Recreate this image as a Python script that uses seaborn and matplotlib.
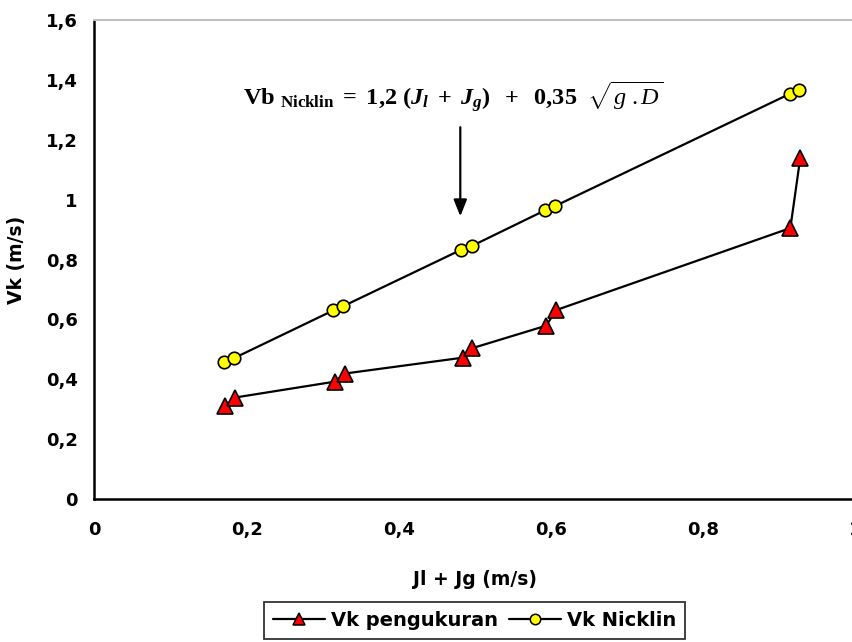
import numpy as np
import pandas as pd
import seaborn as sns
import matplotlib.pyplot as plt
from matplotlib.lines import Line2D
from matplotlib.ticker import FuncFormatter, MultipleLocator

# values
jl_jg_ukur = [0.171, 0.185, 0.316, 0.329, 0.484, 0.497, 0.594, 0.607, 0.915, 0.928]
vk_ukur = [0.309, 0.339, 0.392, 0.419, 0.472, 0.504, 0.579, 0.631, 0.905, 1.139]

jl_jg_nick = [0.170, 0.183, 0.314, 0.327, 0.4825, 0.496, 0.593, 0.606, 0.914, 0.927]
vk_nick = [0.458, 0.470, 0.630, 0.644, 0.833, 0.845, 0.965, 0.979, 1.353, 1.367]

df_ukur = pd.DataFrame({'x': jl_jg_ukur, 'y': vk_ukur})
df_nick = pd.DataFrame({'x': jl_jg_nick, 'y': vk_nick})

sns.set_style('white')
plt.rcParams['font.family'] = ['DejaVu Sans']
plt.rcParams['text.color'] = 'black'
plt.rcParams['axes.labelcolor'] = 'black'
plt.rcParams['xtick.color'] = 'black'
plt.rcParams['ytick.color'] = 'black'
plt.rcParams['mathtext.fontset'] = 'custom'
plt.rcParams['mathtext.rm'] = 'Liberation Serif'
plt.rcParams['mathtext.it'] = 'Liberation Serif:italic'
plt.rcParams['mathtext.bf'] = 'Liberation Serif:bold'
plt.rcParams['mathtext.bfit'] = 'Liberation Serif:bold:italic'

fig = plt.figure(figsize=(8.53, 6.42), dpi=100)
ax = fig.add_axes([94.5 / 853, 1 - 499 / 642, (855 - 94.5) / 853, (499 - 20) / 642])

sns.lineplot(data=df_ukur, x='x', y='y', ax=ax, sort=False, color='black', lw=1.6,
             marker='^', markersize=11, markerfacecolor='#ff0000', markeredgecolor='black',
             markeredgewidth=1.2, legend=False)
sns.lineplot(data=df_nick, x='x', y='y', ax=ax, sort=False, color='black', lw=1.6,
             marker='o', markersize=9, markerfacecolor='#ffff00', markeredgecolor='black',
             markeredgewidth=1.2, legend=False)

ax.set_xlim(0, 1)
ax.set_ylim(0, 1.6)
ax.xaxis.set_major_locator(MultipleLocator(0.2))
ax.yaxis.set_major_locator(MultipleLocator(0.2))
fmt = FuncFormatter(lambda v, p: ('%g' % round(v, 2)).replace('.', ','))
ax.xaxis.set_major_formatter(fmt)
ax.yaxis.set_major_formatter(fmt)
ax.tick_params(axis='both', which='major', direction='out', length=6, width=1.5,
               color='black', labelcolor='black', labelsize=13)
ax.tick_params(axis='x', pad=10)
ax.tick_params(axis='y', pad=6)
for lab in ax.get_xticklabels() + ax.get_yticklabels():
    lab.set_fontweight('bold')

for s in ['left', 'bottom']:
    ax.spines[s].set_color('black')
    ax.spines[s].set_linewidth(1.8)
ax.spines['top'].set_color('#c0c0c0')
ax.spines['top'].set_linewidth(1.5)
ax.spines['right'].set_visible(False)

ax.set_xlabel('Jl + Jg (m/s)', fontsize=13.5, fontweight='bold', labelpad=22, color='black')
ax.set_ylabel('Vk (m/s)', fontsize=13.5, fontweight='bold', labelpad=14, color='black')

# formula and arrow
ax.annotate('', xy=(0.481, 0.935), xytext=(0.481, 1.251),
            arrowprops=dict(arrowstyle='-|>,head_width=0.4,head_length=1.0',
                            color='black', lw=1.6))
ax.text(0.4715, 1.315,
        r'$\mathbf{Vb}\ _{\mathbf{Nicklin}}\mathbf{\ =\ 1{,}2\ (}\mathbfit{J_l}\mathbf{\ +\ }\mathbfit{J_g}'
        r'\mathbf{)\ \ +\ \ 0{,}35\ \ }\sqrt{\mathit{g\ .D}}$',
        fontsize=17.5, ha='center', va='baseline', color='black')

handles = [
    Line2D([], [], color='black', lw=1.6, marker='^', markersize=9,
           markerfacecolor='#ff0000', markeredgecolor='black', markeredgewidth=1.1),
    Line2D([], [], color='black', lw=1.6, marker='o', markersize=7.5,
           markerfacecolor='#ffff00', markeredgecolor='black', markeredgewidth=1.1),
]
labels = ['Vk pengukuran', 'Vk Nicklin']
leg = fig.legend(handles, labels, loc='upper center', bbox_to_anchor=(474.5 / 853, 1 - 602 / 642),
                 ncol=2, frameon=True, fancybox=False, edgecolor='black',
                 prop={'weight': 'bold', 'size': 14}, handlelength=2.7,
                 columnspacing=0.55, handletextpad=0.3, borderpad=0.45, borderaxespad=0)
leg.get_frame().set_linewidth(1.3)
for t in leg.get_texts():
    t.set_color('black')

fig.savefig('out.png', dpi=100)
